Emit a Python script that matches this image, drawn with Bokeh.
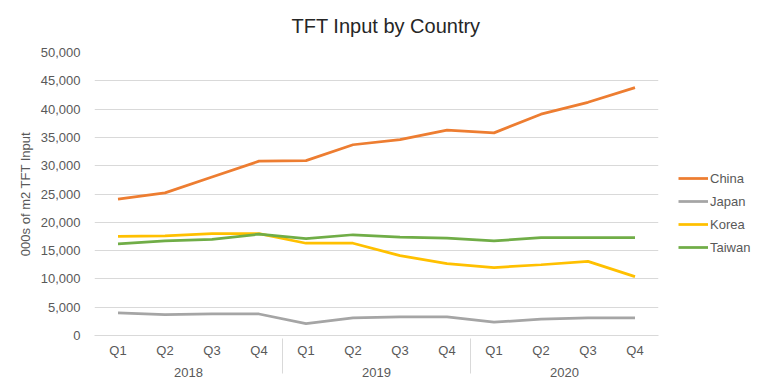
from bokeh.plotting import figure
from bokeh.models import FactorRange, FixedTicker, NumeralTickFormatter, Legend, LegendItem, Range1d, Title
from bokeh.embed import file_html
from bokeh.resources import INLINE

years = ["2018", "2019", "2020"]
quarters = ["Q1", "Q2", "Q3", "Q4"]
china = [24100, 25200, 28000, 30800, 30900, 33700, 34600, 36300, 35800, 39100, 41200, 43800]
japan = [4000, 3700, 3800, 3800, 2100, 3100, 3300, 3300, 2350, 2900, 3100, 3100]
korea = [17500, 17600, 18000, 18000, 16300, 16300, 14100, 12700, 12000, 12500, 13100, 10400]
taiwan = [16200, 16700, 17000, 17900, 17100, 17800, 17400, 17200, 16700, 17300, 17300, 17300]
series = [("China", china, "#ED7D31"), ("Japan", japan, "#A5A5A5"),
          ("Korea", korea, "#FFC000"), ("Taiwan", taiwan, "#70AD47")]
y_ticks = list(range(0, 50001, 5000))

factors = [(y, q) for y in years for q in quarters]
FONT = "Liberation Sans"
GREY_TXT = "#595959"
GRID = "#d9d9d9"

p = figure(frame_width=564, frame_height=283, output_backend="svg", toolbar_location=None,
           x_range=FactorRange(*factors, range_padding=0, group_padding=0, factor_padding=0),
           y_range=Range1d(0, 50000),
           min_border_left=94, min_border_right=94, min_border_top=10, min_border_bottom=10)
p.outline_line_color = None
p.background_fill_color = "white"
p.border_fill_color = "white"

t = Title(text="TFT Input by Country", align="left", text_font=FONT, offset=197, standoff=28,
          vertical_align="top",
          text_font_size="20px", text_font_style="normal", text_color="#262626")
p.add_layout(t, "above")

renderers = []
for name, vals, col in series:
    r = p.line(x=factors, y=vals, line_color=col, line_width=2.75)
    renderers.append((name, r))

legend = Legend(items=[LegendItem(label=n, renderers=[r]) for n, r in renderers],
                location=(20, 78), border_line_color=None, background_fill_alpha=0,
                label_text_font=FONT, label_text_font_size="13px", label_text_color=GREY_TXT,
                glyph_width=30, label_standoff=2, spacing=3, padding=10, margin=0)
p.add_layout(legend, "right")

# y axis
p.yaxis.ticker = FixedTicker(ticks=y_ticks)
p.yaxis.formatter = NumeralTickFormatter(format="0,0")
p.yaxis.axis_line_color = None
p.yaxis.major_tick_line_color = None
p.yaxis.minor_tick_line_color = None
p.yaxis.major_tick_out = 0
p.yaxis.minor_tick_out = 0
p.yaxis.major_label_text_font = FONT
p.yaxis.major_label_text_font_size = "13px"
p.yaxis.major_label_text_color = GREY_TXT
p.yaxis.major_label_standoff = 14
p.yaxis.axis_label = "000s of m2 TFT Input"
p.yaxis.axis_label_text_font = FONT
p.yaxis.axis_label_text_font_size = "13px"
p.yaxis.axis_label_text_font_style = "normal"
p.yaxis.axis_label_text_color = GREY_TXT
p.yaxis.axis_label_standoff = 5

p.ygrid.grid_line_color = GRID
p.ygrid.grid_line_width = 1
p.xgrid.grid_line_color = None

# x axis
p.xaxis.axis_line_color = GRID
p.xaxis.major_tick_line_color = None
p.xaxis.minor_tick_line_color = None
p.xaxis.major_tick_out = 0
p.xaxis.minor_tick_out = 0
p.xaxis.major_label_standoff = 7
p.xaxis.major_label_text_font = FONT
p.xaxis.major_label_text_font_size = "13px"
p.xaxis.major_label_text_color = GREY_TXT
p.xaxis.group_text_font = FONT
p.xaxis.group_text_font_size = "13px"
p.xaxis.group_text_font_style = "normal"
p.xaxis.group_text_color = GREY_TXT
p.xaxis.separator_line_color = GRID
p.xaxis.separator_line_width = 1

open("out.html", "w").write(file_html(p, INLINE))
